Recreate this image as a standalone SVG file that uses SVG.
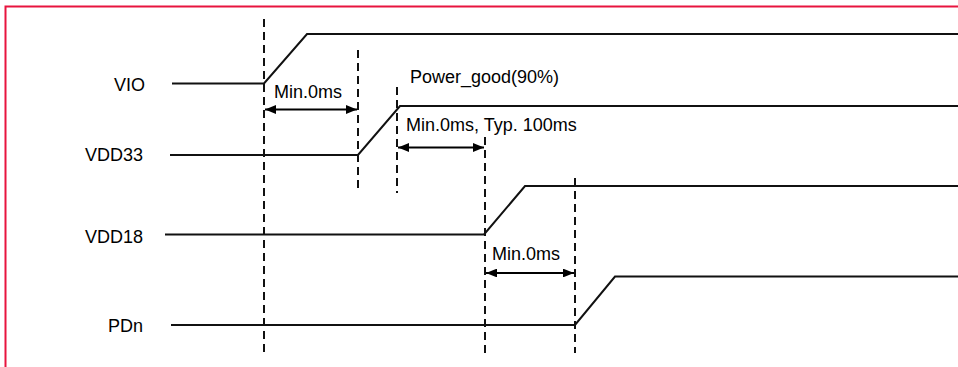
<svg xmlns="http://www.w3.org/2000/svg" width="958" height="367" viewBox="0 0 958 367">
<defs>
<style>
.lbl{font-family:"Liberation Sans",Arial,sans-serif;font-size:18px;fill:#000}
.sig{fill:none;stroke:#111;stroke-width:2;stroke-linejoin:miter}
.dash{fill:none;stroke:#111;stroke-width:2;stroke-dasharray:8,5}
.dim{fill:none;stroke:#000;stroke-width:2;marker-start:url(#ah);marker-end:url(#ah)}
</style>
<marker id="ah" viewBox="0 0 10 8" refX="10" refY="4" markerWidth="5.5" markerHeight="4.4" orient="auto-start-reverse" markerUnits="strokeWidth">
<path d="M0,0 L10,4 L0,8 Z" fill="#000"/>
</marker>
</defs>
<rect width="958" height="367" fill="#fff"/>
<path d="M5.5,367 V6.5 H958" fill="none" stroke="#E8143F" stroke-width="2"/>

<g id="VIO">
<text class="lbl" x="145" y="91" text-anchor="end">VIO</text>
<path class="sig" d="M172,83.5 H264 L307,34 H958"/>
</g>
<g id="VDD33">
<text class="lbl" x="143" y="161" text-anchor="end">VDD33</text>
<path class="sig" d="M170,155 H358 L400,106 H958"/>
</g>
<g id="VDD18">
<text class="lbl" x="143" y="243" text-anchor="end">VDD18</text>
<path class="sig" d="M165,234.5 H484 L525,186 H958"/>
</g>
<g id="PDn">
<text class="lbl" x="143" y="332" text-anchor="end">PDn</text>
<path class="sig" d="M171,325 H575 L615,276.5 H958"/>
</g>

<g id="connectors">
<line class="dash" x1="264" y1="19" x2="264" y2="353"/>
<line class="dash" x1="358" y1="50" x2="358" y2="193"/>
<line class="dash" x1="397" y1="87" x2="397" y2="193"/>
<line class="dash" x1="485" y1="137" x2="485" y2="353"/>
<line class="dash" x1="575" y1="178" x2="575" y2="353"/>
<line class="dim" x1="265" y1="109.5" x2="357" y2="109.5"/>
<line class="dim" x1="398" y1="147.5" x2="484" y2="147.5"/>
<line class="dim" x1="486" y1="273" x2="574" y2="273"/>
</g>

<g id="labels">
<text class="lbl" x="274" y="98">Min.0ms</text>
<text class="lbl" x="410" y="83">Power_good(90%)</text>
<text class="lbl" x="406" y="131">Min.0ms, Typ. 100ms</text>
<text class="lbl" x="492" y="260">Min.0ms</text>
</g>
</svg>
